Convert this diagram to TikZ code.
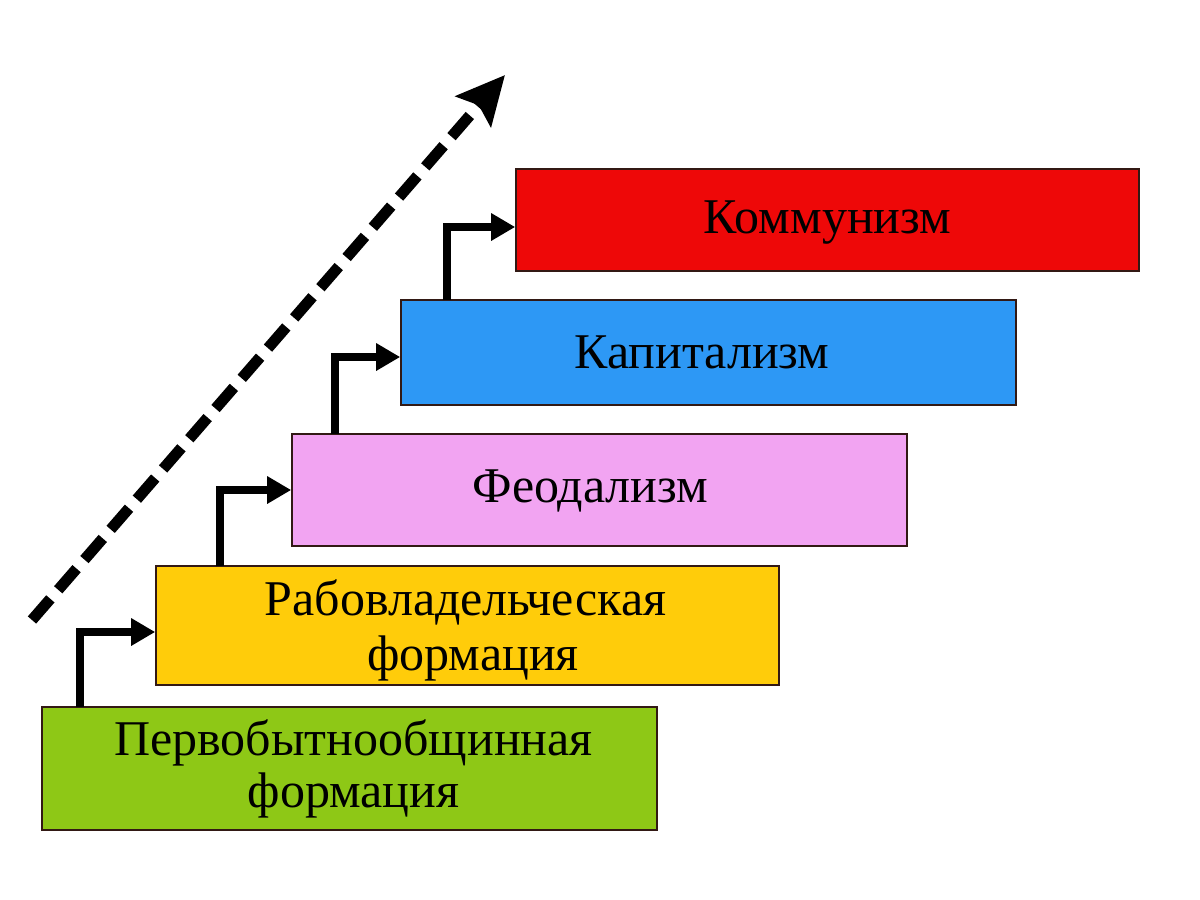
\documentclass[tikz,border=0pt]{standalone}
\usepackage{fontspec}
\setmainfont{Liberation Serif}
\usetikzlibrary{arrows.meta}
\definecolor{cgreen}{RGB}{142,200,22}
\definecolor{cyellow}{RGB}{255,204,10}
\definecolor{cpink}{RGB}{242,164,242}
\definecolor{cblue}{RGB}{45,152,245}
\definecolor{cred}{RGB}{238,8,8}
\definecolor{cborder}{RGB}{50,25,20}
\begin{document}
\begin{tikzpicture}[x=1pt,y=-1pt,
  stage/.style={draw=cborder,line width=1.6pt,inner sep=0pt},
  lbl/.style={anchor=base,inner sep=0pt,font=\fontsize{50}{58}\selectfont},
  stepline/.style={line width=8pt,line join=miter,-{Triangle[length=24pt,width=26pt]}},
  trend/.style={line width=11pt,dash pattern=on 28pt off 12pt,-{Stealth[length=48pt,width=46pt,inset=8pt]}}]
\useasboundingbox (0,0) rectangle (1200,900);
\fill[white] (0,0) rectangle (1200,900);
\node[stage,fill=cgreen,minimum width=615pt,minimum height=123pt] (g) at (349.5,768.5) {};
\node[stage,fill=cyellow,minimum width=623pt,minimum height=119pt] (y) at (467.5,625.5) {};
\node[stage,fill=cpink,minimum width=615pt,minimum height=112pt] (p) at (599.5,490) {};
\node[stage,fill=cblue,minimum width=615pt,minimum height=105pt] (b) at (708.5,352.5) {};
\node[stage,fill=cred,minimum width=623pt,minimum height=102pt] (r) at (827.5,220) {};
\node[lbl] (gt1) at (353.5,755) {Первобытнообщинная};
\node[lbl] (gt2) at (353.5,807) {формация};
\node[lbl] (yt1) at (465.5,615) {Рабовладельческая};
\node[lbl] (yt2) at (473,670) {формация};
\node[lbl] (pt) at (590.5,502) {Феодализм};
\node[lbl] (bt) at (702,368) {Капитализм};
\node[lbl] (rt) at (827.5,233) {Коммунизм};
\coordinate (g1) at (80,707);
\coordinate (y1) at (220,566);
\coordinate (p1) at (335,434);
\coordinate (b1) at (447,300);
\draw[stepline] (g1) |- ([yshift=-6.5pt]y.west);
\draw[stepline] (y1) |- (p.west);
\draw[stepline] (p1) |- ([yshift=-4.5pt]b.west);
\draw[stepline] (b1) |- ([yshift=-7pt]r.west);
\coordinate (t0) at (32,620);
\coordinate (t1) at (505,75);
\draw[trend] (t0) -- (t1);
\end{tikzpicture}
\end{document}
